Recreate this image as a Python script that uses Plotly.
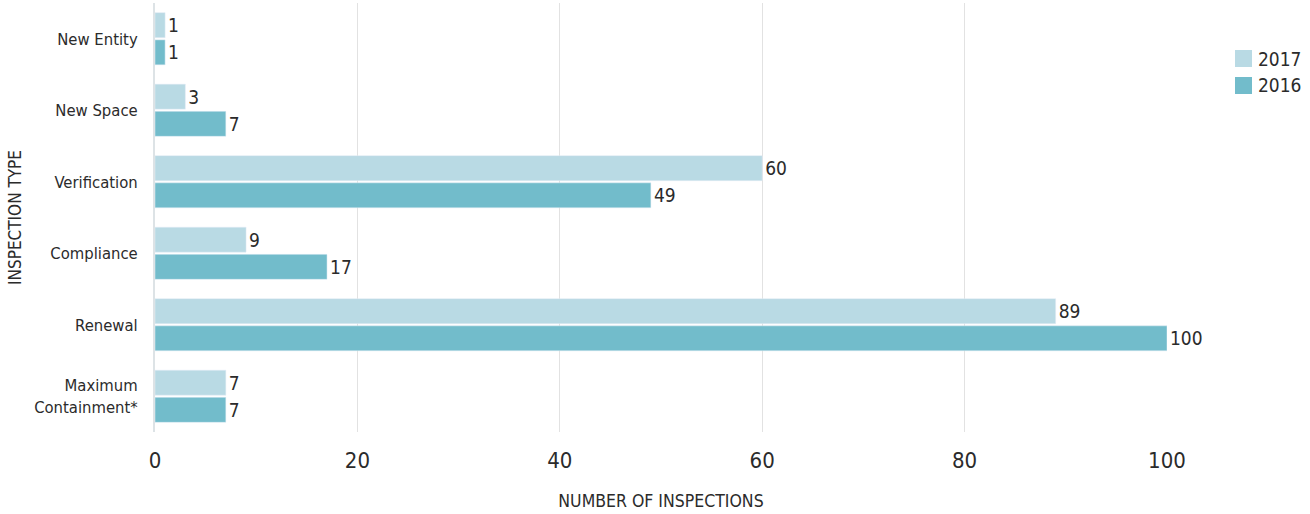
import plotly.graph_objects as go

categories = ["New Entity", "New Space", "Verification", "Compliance", "Renewal", "Maximum<br>Containment*"]
values_2017 = [1, 3, 60, 9, 89, 7]
values_2016 = [1, 7, 49, 17, 100, 7]
x_ticks = [0, 20, 40, 60, 80, 100]

series = [("2017", values_2017, "#b9dae4"), ("2016", values_2016, "#72bccb")]

FONT = "Liberation Sans Narrow, DejaVu Sans Condensed, Arial Narrow, sans-serif"
TEXT = "#2b2b2b"

W, H = 1310, 514
M_L, M_R, M_T, M_B = 155, 143, 3, 82
PLOT_W = W - M_L - M_R
PLOT_H = H - M_T - M_B


def px_x(px):
    return (px - M_L) / PLOT_W


def px_y(py):
    return (H - M_B - py) / PLOT_H


fig = go.Figure()
for name, vals, color in series:
    fig.add_trace(go.Bar(
        name=name, y=categories, x=vals, orientation="h",
        marker=dict(color=color),
        text=vals, textposition="outside", cliponaxis=False,
        textfont=dict(size=19, color=TEXT, family=FONT),
        showlegend=False,
    ))

# legend drawn as square swatches with labels at the right of the plot
shapes, annotations = [], []
for i, (name, _, color) in enumerate(series):
    top = 50 + i * 27
    shapes.append(dict(
        type="rect", xref="paper", yref="paper",
        x0=px_x(1235), x1=px_x(1252), y0=px_y(top + 17), y1=px_y(top),
        fillcolor=color, line=dict(width=0),
    ))
    annotations.append(dict(
        text=name, xref="paper", yref="paper",
        x=px_x(1256), y=px_y(top + 8.5), xanchor="left", yanchor="middle",
        showarrow=False, font=dict(size=19, family=FONT, color=TEXT),
    ))

fig.update_layout(
    width=W, height=H,
    margin=dict(l=M_L, r=M_R, t=M_T, b=M_B),
    paper_bgcolor="white", plot_bgcolor="white",
    barmode="group", bargap=0.24, bargroupgap=0.08,
    font=dict(family=FONT, color=TEXT),
    showlegend=False,
    shapes=shapes, annotations=annotations,
    xaxis=dict(
        range=[0, 100], tickvals=x_ticks, showgrid=True,
        gridcolor="#e2e2e2", gridwidth=1, zeroline=False,
        tickfont=dict(size=22, family=FONT, color=TEXT),
        ticklabelstandoff=13,
        title=dict(text="NUMBER OF INSPECTIONS", standoff=22,
                   font=dict(size=17.5, family=FONT, color=TEXT)),
    ),
    yaxis=dict(
        categoryorder="array", categoryarray=categories,
        autorange="reversed", showgrid=False,
        showline=True, linecolor="#dde3e6", linewidth=2,
        tickfont=dict(size=16.5, family=FONT, color=TEXT),
        ticklabelstandoff=12,
        title=dict(text="INSPECTION TYPE", standoff=8,
                   font=dict(size=17, family=FONT, color=TEXT)),
    ),
)

fig.write_html("out.html")
